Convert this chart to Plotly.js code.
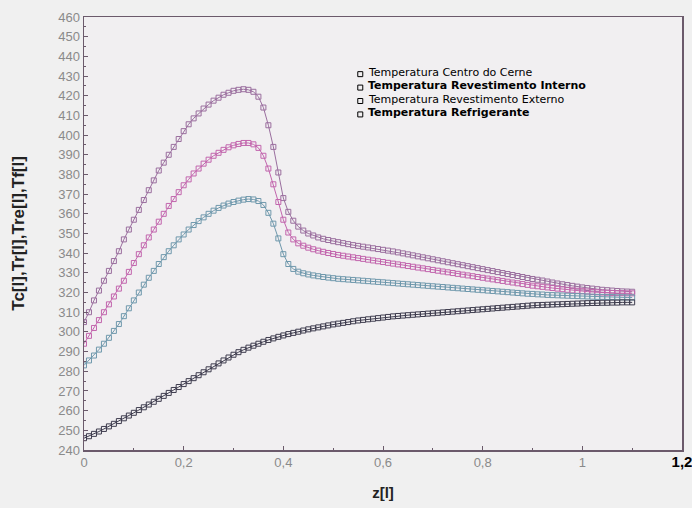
<!DOCTYPE html>
<html>
<head>
<meta charset="utf-8">
<script src="https://cdn.plot.ly/plotly-3.0.1.min.js"></script>
<style>
  html, body { margin: 0; padding: 0; background: #f0f0f0; }
  #chart { width: 692px; height: 508px; }
</style>
</head>
<body>
<div id="chart"></div>
<script>
// Axial position along the channel
const z = [
  0,0.01,0.02,0.03,0.04,0.05,0.06,0.07,0.08,0.09,
  0.1,0.11,0.12,0.13,0.14,0.15,0.16,0.17,0.18,0.19,
  0.2,0.21,0.22,0.23,0.24,0.25,0.26,0.27,0.28,0.29,
  0.3,0.31,0.32,0.33,0.34,0.35,0.36,0.37,0.38,0.39,
  0.4,0.41,0.42,0.43,0.44,0.45,0.46,0.47,0.48,0.49,
  0.5,0.51,0.52,0.53,0.54,0.55,0.56,0.57,0.58,0.59,
  0.6,0.61,0.62,0.63,0.64,0.65,0.66,0.67,0.68,0.69,
  0.7,0.71,0.72,0.73,0.74,0.75,0.76,0.77,0.78,0.79,
  0.8,0.81,0.82,0.83,0.84,0.85,0.86,0.87,0.88,0.89,
  0.9,0.91,0.92,0.93,0.94,0.95,0.96,0.97,0.98,0.99,
  1.0,1.01,1.02,1.03,1.04,1.05,1.06,1.07,1.08,1.09,1.1
];

// Core centre temperature
const Tc = [
  305,310,316,321,326,331,336,341,347,352,
  357,362,367,372,377,382,386,390,394,398,
  402,405.5,408.5,411,413.5,415.5,417.5,419,420.5,421.5,
  422.5,423,423.3,423,422,419.5,414,405,394,381,
  368,361,356.5,353.5,351.5,350,349,348,347.3,346.7,
  346.1,345.6,345.1,344.6,344.1,343.7,343.3,342.9,342.5,342.1,
  341.7,341.3,340.9,340.4,339.9,339.4,338.9,338.4,337.9,337.4,
  336.9,336.4,335.9,335.4,334.9,334.4,333.9,333.4,332.9,332.4,
  331.9,331.4,330.9,330.4,329.9,329.4,328.9,328.4,327.9,327.4,
  326.9,326.5,326.1,325.6,325.1,324.6,324.2,323.8,323.4,323,
  322.6,322.3,322,321.7,321.4,321.2,321,320.8,320.6,320.5,320.4
];

// Inner cladding temperature
const Tr = [
  294,298,302,306,310,314,318,322,326,330.5,
  335,339.5,344,348,352,356,360,364,367.5,371,
  374.5,377.5,380.5,383,385.5,387.5,389.5,391,392.5,393.8,
  394.8,395.5,396,396,395.3,393.5,389.5,383,375,366,
  357,350.5,347,345,343.8,342.8,342,341.3,340.7,340.1,
  339.6,339.1,338.7,338.3,337.9,337.5,337.1,336.7,336.3,335.9,
  335.5,335.1,334.7,334.3,333.9,333.5,333.1,332.7,332.3,331.9,
  331.5,331.1,330.7,330.3,329.9,329.5,329.1,328.7,328.3,327.9,
  327.5,327.1,326.7,326.3,325.9,325.5,325.1,324.7,324.3,323.9,
  323.5,323.2,322.9,322.6,322.3,322,321.7,321.4,321.1,320.9,
  320.7,320.5,320.3,320.1,320,319.9,319.8,319.7,319.7,319.6,319.6
];

// Outer cladding temperature
const Tre = [
  283,285.5,288,291,294,297,300.5,304,308,312,
  316,320,324,327.5,331,334.5,338,341,344,347,
  349.5,352,354.3,356.3,358.2,360,361.6,363,364.2,365.2,
  366,366.7,367.2,367.5,367.3,366.5,364.5,360.5,355,347.5,
  339.5,334.5,332,330.6,329.8,329.2,328.7,328.3,327.9,327.6,
  327.3,327,326.8,326.6,326.4,326.2,326,325.8,325.6,325.4,
  325.2,325,324.8,324.6,324.4,324.2,324,323.8,323.6,323.4,
  323.2,323,322.8,322.6,322.4,322.2,322,321.8,321.6,321.4,
  321.2,321,320.8,320.6,320.4,320.2,320,319.8,319.6,319.4,
  319.3,319.1,319,318.8,318.7,318.6,318.5,318.4,318.3,318.2,
  318.1,318,317.9,317.8,317.8,317.7,317.7,317.6,317.6,317.5,317.5
];

// Coolant temperature
const Tf = [
  246,247,248.2,249.4,250.7,252,253.3,254.7,256.1,257.5,
  258.9,260.3,261.7,263.1,264.5,266,267.5,269,270.5,272,
  273.5,275,276.5,278,279.5,281,282.5,284,285.5,287,
  288.4,289.7,290.9,292,293,294,295,295.9,296.7,297.5,
  298.2,298.9,299.5,300.1,300.7,301.3,301.8,302.3,302.8,303.3,
  303.8,304.2,304.6,305,305.4,305.8,306.1,306.4,306.7,307,
  307.3,307.6,307.9,308.1,308.3,308.5,308.7,308.9,309.1,309.3,
  309.5,309.7,309.9,310.1,310.3,310.5,310.7,310.9,311.1,311.3,
  311.5,311.7,311.9,312.1,312.3,312.5,312.7,312.9,313.1,313.3,
  313.5,313.6,313.7,313.8,313.9,314,314.1,314.2,314.3,314.4,
  314.5,314.6,314.7,314.7,314.8,314.8,314.9,314.9,315,315,315
];

const seriesNames = [
  'Temperatura Centro do Cerne',
  'Temperatura Revestimento Interno',
  'Temperatura Revestimento Externo',
  'Temperatura Refrigerante'
];
const seriesBold = [false, true, false, true];

const xTickVals = [0, 0.2, 0.4, 0.6, 0.8, 1, 1.2];
const xTickText = ['0', '0,2', '0,4', '0,6', '0,8', '1',
  '<span style="fill:#000;font-size:15px;font-weight:bold">1,2</span>'];

const colors = ['#9a6e9e', '#c265ad', '#6f98ac', '#3e3c4e'];
const ys = [Tc, Tr, Tre, Tf];

const traces = ys.map((y, i) => ({
  x: z, y: y, type: 'scatter', mode: 'lines+markers',
  name: seriesNames[i], showlegend: false,
  line: { color: colors[i], width: 1 },
  marker: { symbol: 'square-open', size: 5, color: colors[i], line: { width: 1, color: colors[i] } }
}));

// Hand-built key: small square followed by the series label
const keyX = 0.462, keyY0 = 0.872, keyStep = 0.031;
const keyFont = 'DejaVu Sans, Liberation Sans, sans-serif';
const annotations = seriesNames.map((n, i) => ({
  xref: 'paper', yref: 'paper', x: keyX + 0.01, y: keyY0 - i * keyStep,
  xanchor: 'left', yanchor: 'middle', showarrow: false,
  text: seriesBold[i] ? '<b>' + n + '</b>' : n,
  font: { family: keyFont, size: 11, color: '#000' }
}));
const shapes = seriesNames.map((n, i) => ({
  type: 'rect', xref: 'paper', yref: 'paper',
  xsizemode: 'pixel', ysizemode: 'pixel',
  xanchor: keyX, yanchor: keyY0 - i * keyStep - 0.004,
  x0: -2.5, x1: 2.5, y0: -2.5, y1: 2.5,
  line: { color: '#000', width: 1 }, fillcolor: 'rgba(0,0,0,0)'
}));

// Rotated y title
annotations.push({
  xref: 'paper', yref: 'paper', x: -0.11, y: 0.5,
  xanchor: 'center', yanchor: 'middle', showarrow: false, textangle: -90,
  text: '<b>Tc[l],Tr[l],Tre[l],Tf[l]</b>',
  font: { family: 'Liberation Sans, Arial, sans-serif', size: 17, color: '#222' }
});

const axisLine = '#6b5a6b';
const layout = {
  width: 692, height: 508,
  margin: { l: 84, r: 10, t: 17, b: 58 },
  paper_bgcolor: '#f0f0f0', plot_bgcolor: '#f1eff1',
  showlegend: false,
  font: { family: 'Liberation Sans, Arial, sans-serif', size: 13, color: '#8a8a8a' },
  xaxis: {
    range: [0, 1.2], tickvals: xTickVals, ticktext: xTickText,
    ticklabeloverflow: 'allow',
    showgrid: false, zeroline: false,
    showline: true, mirror: true, linecolor: axisLine, linewidth: 1.5,
    ticks: 'inside', ticklen: 4, tickcolor: axisLine,
    minor: { dtick: 0.1, ticks: 'inside', ticklen: 2, tickcolor: axisLine, showgrid: false },
    title: { text: '<b>z[l]</b>', font: { size: 15, color: '#222' }, standoff: 18 }
  },
  yaxis: {
    range: [240, 460], dtick: 10, tick0: 240,
    showgrid: false, zeroline: false,
    showline: true, mirror: true, linecolor: axisLine, linewidth: 1.5,
    ticks: 'inside', ticklen: 4, tickcolor: axisLine,
    minor: { dtick: 5, ticks: 'inside', ticklen: 2, tickcolor: axisLine, showgrid: false }
  },
  annotations: annotations,
  shapes: shapes
};

Plotly.newPlot('chart', traces, layout, { displayModeBar: false, staticPlot: true });
</script>
</body>
</html>
